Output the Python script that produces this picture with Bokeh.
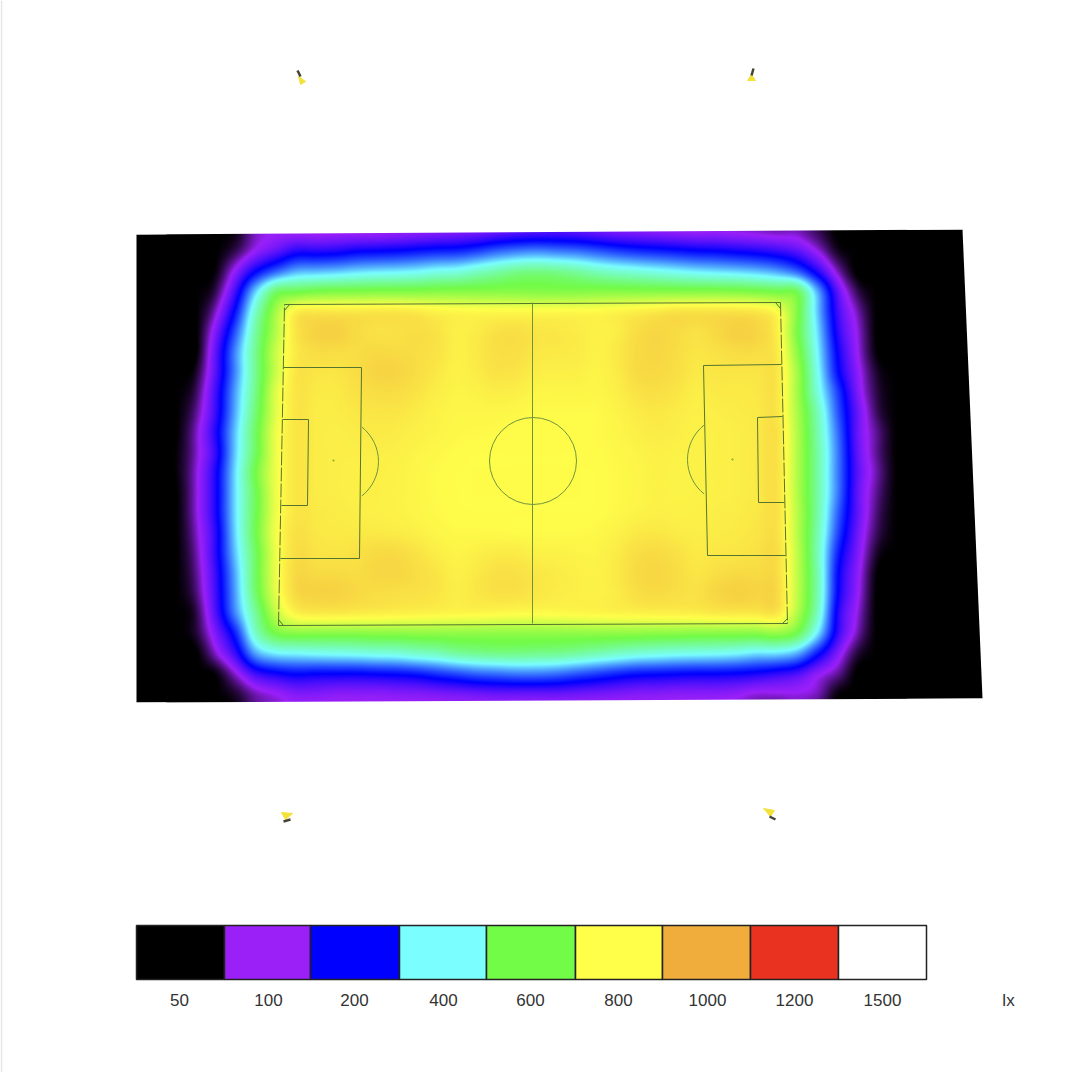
import numpy as np
from bokeh.core.properties import value
from bokeh.embed import file_html
from bokeh.plotting import figure
from bokeh.resources import INLINE

# Legend
LEGEND_LUX = [50, 100, 200, 400, 600, 800, 1000, 1200, 1500]
LEGEND_COLORS = ["#000000", "#9B20F8", "#0000FF", "#7AFEFF", "#72FB47", "#FFFF4A", "#F0AD3C", "#E9321F", "#FFFFFF"]
LEGEND_EDGES = [136, 224, 310, 399, 486, 575, 662, 750, 838, 926]
LEGEND_LABEL_X = [179, 268, 354, 443, 530, 618, 707, 794, 882]
UNIT = "lx"

# Illuminance (lx); columns x = 176..896, rows y = 232..712, 20 px apart
LUX = [
[50,50,50,55,90,100, 100,97,100,100,100,105,110,115,120,125,135,145,150,150,145,135,125,120,115,110,105,105,100,95,90, 90,70,50,50,50,50],
[50,50,50,70,110,145, 185,185,190,205,210,215,225,235,240,260,290,310,320,310,300,280,260,245,235,225,215,210,200,190,175, 150,105,60,50,50,50],
[50,50,55,115,210,290, 350,360,370,385,395,400,410,430,440,470,500,530,540,530,510,480,460,445,430,415,400,390,380,365,340, 290,190,95,50,50,50],
[50,50,70,170,380,570, 600,620,630,630,635,635,635,640,640,640,640,640,635,635,635,640,640,640,640,640,640,640,635,625,610, 590,350,150,70,50,50],
[50,50,95,225,470,680, 840,860,860,860,860,860,850,830,820,815,815,815,815,815,815,815,825,840,855,870,870,870,870,860,810, 630,370,170,90,50,50],
[50,50,125,280,510,700, 860,905,910,885,870,870,880,865,835,845,870,875,860,855,845,830,840,880,895,885,870,890,910,900,840, 620,390,185,100,50,50],
[50,50,145,320,530,730, 850,880,880,880,890,885,880,865,835,850,875,875,855,850,845,830,850,885,895,880,860,870,880,880,850, 650,410,205,105,52,50],
[50,60,150,320,530,730, 860,860,860,880,900,900,880,855,830,845,865,860,840,835,835,825,845,885,890,875,850,860,860,860,860, 680,430,220,115,60,50],
[50,70,165,340,540,760, 860,850,850,870,880,880,865,840,825,830,840,835,820,820,820,820,835,865,875,860,840,850,850,855,860, 680,450,260,125,65,50],
[50,80,170,350,560,760, 860,845,845,855,860,860,845,830,820,820,820,815,810,810,810,810,825,845,855,845,835,840,845,850,860, 690,490,280,140,70,50],
[50,90,185,370,580,780, 860,845,840,845,850,845,835,825,815,812,810,808,808,808,808,810,820,835,845,840,830,835,840,850,870, 700,500,300,140,80,50],
[52,90,175,375,580,780, 860,845,840,840,840,835,825,815,808,805,805,805,805,805,805,808,815,825,835,830,830,835,840,850,870, 700,510,310,145,80,50],
[52,95,190,390,610,780, 860,845,840,835,835,830,820,810,805,805,805,805,805,805,805,805,812,822,830,828,830,835,840,850,870, 700,510,310,150,85,50],
[50,95,190,390,590,780, 860,845,840,835,835,830,820,810,805,805,805,805,805,805,805,805,812,822,830,828,830,835,840,850,870, 700,510,310,145,80,50],
[50,95,190,390,590,780, 860,850,845,840,835,830,822,812,806,805,805,805,805,805,805,806,815,826,835,832,835,840,845,855,870, 710,510,290,145,75,50],
[50,90,180,385,600,790, 870,855,850,850,850,845,835,820,812,812,812,808,808,810,810,815,830,850,855,845,840,845,850,860,870, 710,500,270,135,70,50],
[50,85,180,370,580,780, 880,865,860,870,885,885,865,840,825,835,845,845,830,830,825,825,845,875,885,870,850,855,860,870,880, 720,490,240,125,60,50],
[50,80,170,350,580,780, 890,885,885,880,895,895,880,860,835,850,870,870,855,845,835,830,850,885,895,880,860,875,885,885,880, 720,500,220,115,52,50],
[50,75,165,340,570,770, 890,905,905,890,880,875,870,860,840,855,870,870,855,845,835,830,845,875,885,875,870,895,910,900,890, 720,500,215,110,50,50],
[50,65,155,320,520,720, 830,850,850,845,840,835,830,825,820,820,815,810,810,810,815,820,825,830,835,835,840,850,855,855,860, 700,480,195,100,50,50],
[50,62,125,240,470,610, 640,640,640,640,645,645,650,650,650,650,650,650,650,650,650,650,650,650,645,645,640,640,640,640,660, 600,400,180,90,50,50],
[50,50,95,175,340,400, 410,420,425,430,440,445,465,480,510,525,535,535,530,525,510,490,470,450,440,430,425,420,410,390,390, 350,230,125,65,50,50],
[50,50,55,100,170,200, 215,210,210,210,215,220,230,250,270,290,300,310,310,300,280,260,240,225,220,215,210,210,205,195,180, 160,115,85,50,50,50],
[50,50,50,62,90,105, 120,120,115,115,115,118,120,125,130,135,140,140,140,140,135,130,125,120,118,115,115,115,110,100,100, 100,90,55,50,50,50],
[50,50,50,55,85,95, 100,100,100,100,100,100,100,100,100,100,100,100,100,100,100,100,100,100,100,100,100,100,95,85,75, 90,70,50,50,50,50],
]

# Ground outline and pitch markings
GROUND_X = [136, 962, 982, 136]
GROUND_Y = [234, 229, 698, 702]
PITCH_X = [284, 780, 787, 278, 284]
PITCH_Y = [304, 302, 623, 625, 304]
HALFWAY_X = [532, 532]
HALFWAY_Y = [302, 623]
LEFT_BOX_X = [283, 361, 359, 280]
LEFT_BOX_Y = [367, 367, 558, 558]
LEFT_GOAL_X = [282, 308, 307, 281]
LEFT_GOAL_Y = [419, 419, 505, 505]
RIGHT_BOX_X = [781, 703, 707, 785]
RIGHT_BOX_Y = [364, 365, 555, 555]
RIGHT_GOAL_X = [782, 757, 758, 784]
RIGHT_GOAL_Y = [416, 417, 502, 502]
CORNER_X = [[284, 289], [775, 780], [278, 283], [782, 787]]
CORNER_Y = [[310, 304], [302, 308], [619, 625], [623, 618]]

# Luminaires: body (yellow) and head (dark)
LAMP_BODY_X = [[298, 305, 300], [747, 755, 751], [281, 292, 285], [763, 774, 770]]
LAMP_BODY_Y = [[76, 81, 84], [80, 80, 74], [812, 813, 819], [808, 810, 816]]
LAMP_HEAD_X = [[297, 300], [753, 751], [283, 290], [769, 775]]
LAMP_HEAD_Y = [[70, 76], [68, 75], [821, 819], [816, 819]]


def shade(grid, step=20):
    """Resample the read grid only to shade it smoothly between its cells (Catmull-Rom)."""
    def along(a):
        n = a.shape[0]
        t = (np.arange(n * step) + 0.5) / step - 0.5
        i = np.floor(t).astype(int)
        f = (t - i)[:, None]
        g = lambda k: a[np.clip(i + k, 0, n - 1)]
        return g(0) + 0.5 * f * (g(1) - g(-1) + f * (2 * g(-1) - 5 * g(0) + 4 * g(1) - g(2)
                                                    + f * (3 * g(0) - 3 * g(1) + g(2) - g(-1))))
    return along(along(grid).T).T


lux = shade(np.array(LUX, dtype=float))
stops = np.array([[int(c[i:i + 2], 16) for i in (1, 3, 5)] for c in LEGEND_COLORS], dtype=float)
rgba = np.full(lux.shape + (4,), 255, dtype=np.uint8)
for k in range(3):
    rgba[..., k] = np.interp(lux, LEGEND_LUX, stops[:, k]).astype(np.uint8)
img = rgba.view(dtype=np.uint32).reshape(lux.shape)

p = figure(width=1072, height=1072, x_range=(0, 1072), y_range=(1072, 0),
           output_backend="svg", toolbar_location=None, min_border=0)
p.axis.visible = False
p.grid.visible = False
p.outline_line_color = None
p.background_fill_color = "white"

p.line([1, 1], [0, 1072], line_color="#e4e4e4", line_width=1.5)
p.patch(GROUND_X, GROUND_Y, fill_color="black", line_color=None)
p.image_rgba(image=[img], x=166, y=222, dw=740, dh=500)

# White above and below the sloping ground edges
p.patch([136, 962, 962, 136], [GROUND_Y[0], GROUND_Y[1], 215, 215], fill_color="white", line_color=None)
p.patch([136, 982, 982, 136], [GROUND_Y[3], GROUND_Y[2], 735, 735], fill_color="white", line_color=None)

LINE = "#55752f"
SOFT = "#6f9440"
p.line(PITCH_X[:2], PITCH_Y[:2], line_color=LINE, line_width=1)
p.line(PITCH_X[2:4], PITCH_Y[2:4], line_color=LINE, line_width=1)
p.line(PITCH_X[1:3], PITCH_Y[1:3], line_color=LINE, line_width=1, line_dash="14 2")
p.line(PITCH_X[3:5], PITCH_Y[3:5], line_color=LINE, line_width=1, line_dash="14 2")
p.line(HALFWAY_X, HALFWAY_Y, line_color=SOFT, line_width=1)
for xs, ys in [(LEFT_BOX_X, LEFT_BOX_Y), (LEFT_GOAL_X, LEFT_GOAL_Y), (RIGHT_BOX_X, RIGHT_BOX_Y), (RIGHT_GOAL_X, RIGHT_GOAL_Y)]:
    p.line(xs, ys, line_color=LINE, line_width=1)
p.multi_line(CORNER_X, CORNER_Y, line_color=LINE, line_width=1)
p.ellipse(x=[532.5], y=[460.5], width=[87], height=[87], fill_color=None, line_color=SOFT, line_width=1)
p.arc(x=[334], y=[461], radius=44, start_angle=-0.9, end_angle=0.9, line_color=SOFT, line_width=1)
p.arc(x=[731], y=[459], radius=44, start_angle=np.pi - 0.9, end_angle=np.pi + 0.9, line_color=SOFT, line_width=1)
p.scatter(x=[333, 732], y=[460, 459], size=1.5, color=SOFT, alpha=0.5)

p.patches(LAMP_BODY_X, LAMP_BODY_Y, fill_color="#F2E23A", line_color="#F2E23A", line_width=1)
p.multi_line(LAMP_HEAD_X, LAMP_HEAD_Y, line_color="#444433", line_width=2.5)

# Legend bar
p.quad(left=LEGEND_EDGES[:-1], right=LEGEND_EDGES[1:], top=[925] * 9, bottom=[979] * 9,
       fill_color=LEGEND_COLORS, line_color="#222222", line_width=1.5)
p.text(x=LEGEND_LABEL_X, y=[999.5] * 9, text=[str(v) for v in LEGEND_LUX], text_align="center",
       text_baseline="middle", text_font=value("Liberation Sans"), text_font_size="17px", text_color="#333333")
p.text(x=[1008], y=[999.5], text=[UNIT], text_align="center", text_baseline="middle",
       text_font=value("Liberation Sans"), text_font_size="17px", text_color="#333333")

open("out.html", "w").write(file_html(p, INLINE))
